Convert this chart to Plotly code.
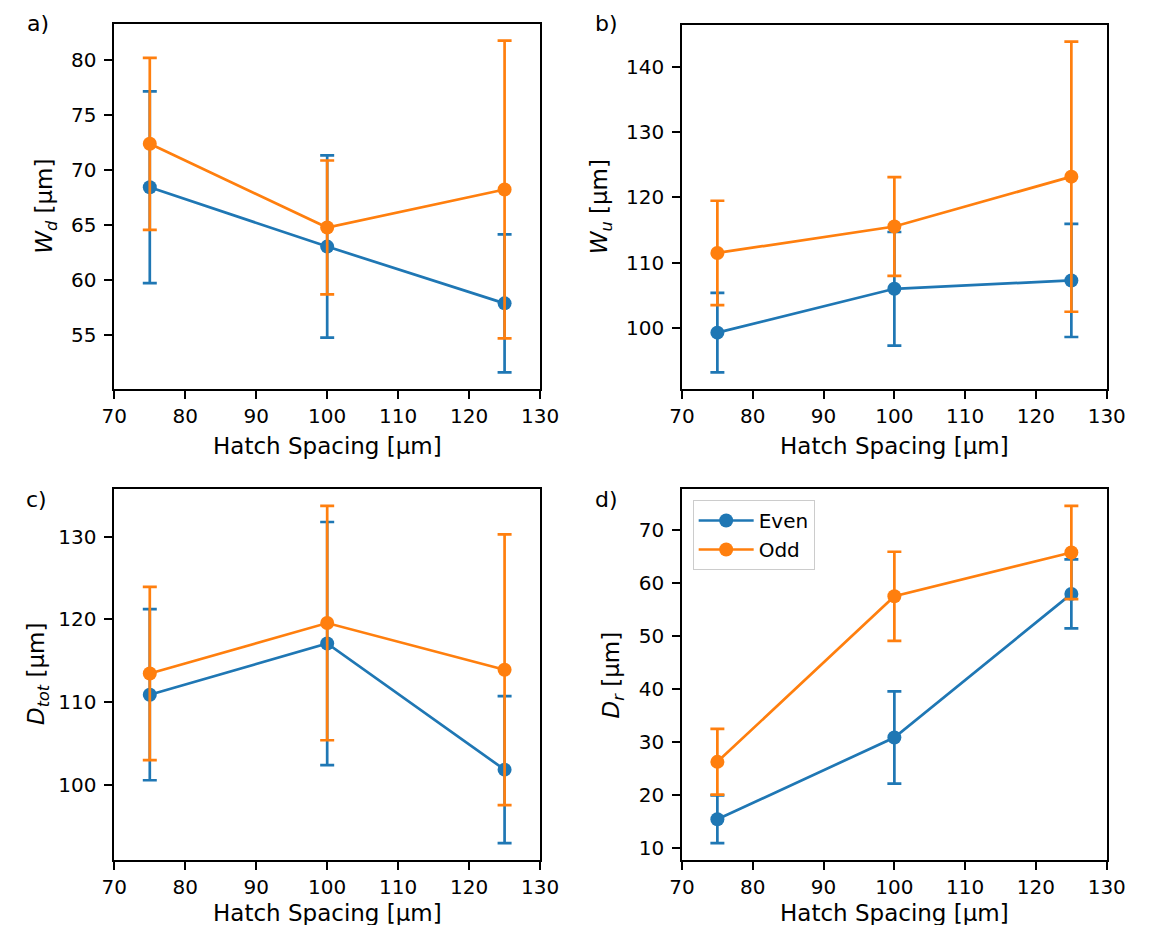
import plotly.graph_objects as go

hatch = [75, 100, 125]

wd_even = [68.43, 63.02, 57.85]
wd_even_err = [8.73, 8.30, 6.29]
wd_odd = [72.38, 64.76, 68.22]
wd_odd_err = [7.83, 6.10, 13.56]

wu_even = [99.28, 106.0, 107.28]
wu_even_err = [6.10, 8.70, 8.67]
wu_odd = [111.49, 115.54, 123.18]
wu_odd_err = [8.00, 7.57, 20.70]

dtot_even = [110.9, 117.08, 101.85]
dtot_even_err = [10.33, 14.67, 8.87]
dtot_odd = [113.46, 119.55, 113.91]
dtot_odd_err = [10.45, 14.15, 16.34]

dr_even = [15.48, 30.9, 58.0]
dr_even_err = [4.50, 8.70, 6.50]
dr_odd = [26.32, 57.55, 65.81]
dr_odd_err = [6.20, 8.40, 8.80]

x_ticks = [70, 80, 90, 100, 110, 120, 130]
series_names = ["Even", "Odd"]
colors = ["#1f77b4", "#ff7f0e"]

OFF = 8  # page body margin
W, H = 1152 - OFF, 925 - OFF
FONT = "DejaVu Sans"
FS = 20
FS_LAB = 23


def fx(px):
    return (px - OFF) / W


def fy(py):
    return 1 - (py - OFF) / H


# pixel boxes of the four panels in the screenshot (left, right, top, bottom)
boxes = {
    1: (104, 542, 24, 389),
    2: (688, 1125, 25, 389),
    3: (104, 542, 489, 860),
    4: (688, 1125, 489, 860),
}

panels = [
    (1, wd_even, wd_even_err, wd_odd, wd_odd_err, 5, "<i>W</i><sub><i>d</i></sub> [µm]", "a)"),
    (2, wu_even, wu_even_err, wu_odd, wu_odd_err, 10, "<i>W</i><sub><i>u</i></sub> [µm]", "b)"),
    (3, dtot_even, dtot_even_err, dtot_odd, dtot_odd_err, 10, "<i>D</i><sub><i>tot</i></sub> [µm]", "c)"),
    (4, dr_even, dr_even_err, dr_odd, dr_odd_err, 10, "<i>D</i><sub><i>r</i></sub> [µm]", "d)"),
]

ylabel_x = {1: 33, 2: 605, 3: 25, 4: 617}
xlabel_y = {1: 446, 2: 446, 3: 913, 4: 913}
panel_lab = {1: (25, 23), 2: (610, 23), 3: (24, 499), 4: (610, 499)}

fig = go.Figure()
annotations = []
layout_axes = {}

for idx, ev, eve, od, ode, dt, ylab, plab in panels:
    sfx = "" if idx == 1 else str(idx)
    xa, ya = "x" + sfx, "y" + sfx
    for k, (vals, errs) in enumerate([(ev, eve), (od, ode)]):
        fig.add_trace(go.Scatter(
            x=hatch, y=vals, mode="lines+markers",
            name=series_names[k], legendgroup=series_names[k],
            showlegend=(idx == 4),
            line=dict(color=colors[k], width=2.7),
            marker=dict(color=colors[k], size=14),
            error_y=dict(type="data", array=errs, visible=True,
                         color=colors[k], thickness=2.7, width=7),
            xaxis=xa, yaxis=ya,
        ))
    lows = [v - e for v, e in zip(ev + od, eve + ode)]
    highs = [v + e for v, e in zip(ev + od, eve + ode)]
    lo, hi = min(lows), max(highs)
    span = hi - lo
    yr = [lo - 0.05 * span, hi + 0.05 * span]
    l, r, t, b = boxes[idx]
    common = dict(showline=True, linecolor="black", linewidth=1.7, mirror=True,
                  ticks="outside", ticklen=8, tickwidth=1.5, tickcolor="black",
                  showgrid=False, zeroline=False,
                  tickfont=dict(family=FONT, size=FS, color="black"))
    layout_axes["xaxis" + sfx] = dict(common, domain=[fx(l), fx(r)], anchor=ya,
                                      range=[70, 130], tickvals=x_ticks,
                                      ticklabelstandoff=0)
    layout_axes["yaxis" + sfx] = dict(common, domain=[fy(b), fy(t)], anchor=xa,
                                      range=yr, dtick=dt, tick0=0,
                                      ticklabelstandoff=4)
    annotations.append(dict(text="Hatch Spacing [µm]", x=fx((l + r) / 2),
                            y=fy(xlabel_y[idx]), xref="paper", yref="paper",
                            showarrow=False, xanchor="center", yanchor="middle",
                            font=dict(family=FONT, size=FS_LAB, color="black")))
    annotations.append(dict(text=ylab, x=fx(ylabel_x[idx]), y=fy((t + b) / 2),
                            xref="paper", yref="paper", showarrow=False,
                            textangle=-90, xanchor="center", yanchor="middle",
                            font=dict(family=FONT, size=FS_LAB, color="black")))
    px, py = panel_lab[idx]
    annotations.append(dict(text=plab, x=fx(px), y=fy(py), xref="paper", yref="paper",
                            showarrow=False, xanchor="center", yanchor="middle",
                            font=dict(family=FONT, size=22, color="black")))

fig.update_layout(
    width=W, height=H,
    margin=dict(l=0, r=0, t=0, b=0),
    paper_bgcolor="white", plot_bgcolor="white",
    font=dict(family=FONT, size=FS, color="black"),
    annotations=annotations,
    legend=dict(x=fx(699), y=fy(500), xanchor="left", yanchor="top",
                bgcolor="rgba(255,255,255,0.85)", bordercolor="#cccccc", borderwidth=1,
                font=dict(family=FONT, size=FS, color="black"),
                tracegroupgap=0, itemwidth=55),
    **layout_axes,
)

fig.write_html("out.html")
